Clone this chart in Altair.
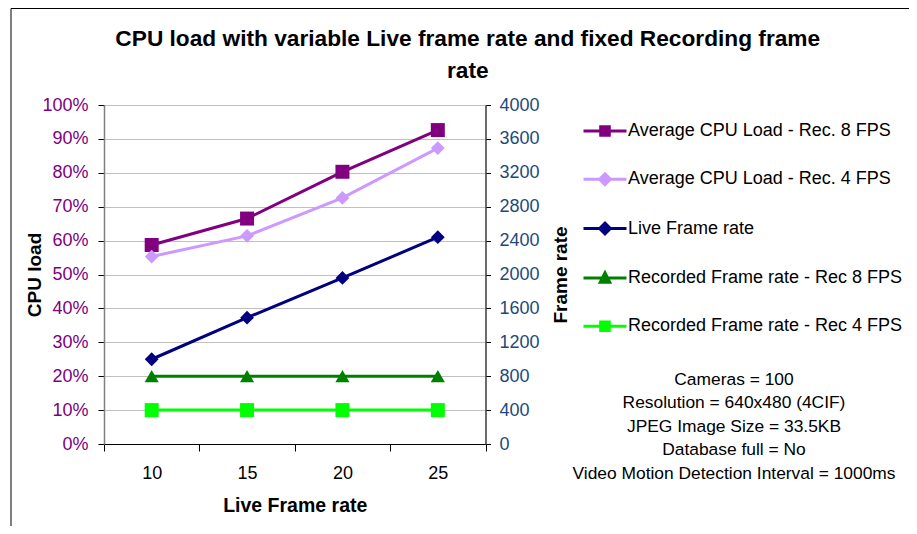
import altair as alt
import pandas as pd

# ---- data ----
live_fps = [10, 15, 20, 25]
cpu_rec8 = [0.587, 0.665, 0.803, 0.926]
cpu_rec4 = [0.553, 0.614, 0.726, 0.873]
live_rate = [1000, 1490, 1960, 2440]
rec_rate8 = [800, 800, 800, 800]
rec_rate4 = [400, 400, 400, 400]

series_names = [
    "Average CPU Load - Rec. 8 FPS",
    "Average CPU Load - Rec. 4 FPS",
    "Live Frame rate",
    "Recorded Frame rate - Rec 8 FPS",
    "Recorded Frame rate - Rec 4 FPS",
]
series_colors = ["#800080", "#CC99FF", "#000080", "#008000", "#00FF00"]
legend_shapes = [
    "M-1,0H1M-0.2,-0.2H0.2V0.2H-0.2Z",
    "M-1,0H1M-0.25,0L0,-0.25L0.25,0L0,0.25Z",
    "M-1,0H1M-0.25,0L0,-0.25L0.25,0L0,0.25Z",
    "M-1,0H1M-0.22,0.2L0.22,0.2L0,-0.24Z",
    "M-1,0H1M-0.2,-0.2H0.2V0.2H-0.2Z",
]
notes = [
    "Cameras = 100",
    "Resolution = 640x480 (4CIF)",
    "JPEG Image Size = 33.5KB",
    "Database full = No",
    "Video Motion Detection Interval = 1000ms",
]
title_lines = ["CPU load with variable Live frame rate and fixed Recording frame", "rate"]
cpu_ticks = [i / 10 for i in range(11)]
rate_ticks = list(range(0, 4001, 400))

cpu_df = pd.DataFrame({
    "fps": live_fps * 2,
    "load": cpu_rec8 + cpu_rec4,
    "series": [series_names[0]] * 4 + [series_names[1]] * 4,
})
fr_df = pd.DataFrame({
    "fps": live_fps * 3,
    "rate": live_rate + rec_rate8 + rec_rate4,
    "series": [series_names[2]] * 4 + [series_names[3]] * 4 + [series_names[4]] * 4,
})
legend_df = pd.DataFrame({"series": series_names})
one_row = pd.DataFrame({"k": [1]})

FONT = "Liberation Sans"
W, H = 381.5, 339

# colour scale for the marks (listed in reverse so it is not merged with the legend's scales)
color_scale = alt.Scale(domain=series_names[::-1], range=series_colors[::-1])

X = alt.X(
    "fps:O",
    sort=live_fps,
    scale=alt.Scale(type="band", paddingInner=0, paddingOuter=0),
    axis=alt.Axis(
        title="Live Frame rate", tickBand="extent", tickSize=7, tickColor="black",
        domainColor="black", labelAngle=0, labelFont=FONT, labelFontSize=18,
        labelColor="black", labelPadding=13, titleFont=FONT, titleFontSize=19.5,
        titleFontWeight="bold", titleColor="black", titleY=61, titleX=W / 2,
        titleBaseline="middle", grid=False,
    ),
)

left_axis = alt.Axis(
    title="CPU load", values=cpu_ticks, format=".0%", tickSize=6, tickColor="black",
    domainColor="#808080", domainWidth=1.5, labelFont=FONT, labelFontSize=18,
    labelColor="#800080", labelPadding=10, grid=True, gridColor="#C0C0C0",
    titleFont=FONT, titleFontSize=19, titleFontWeight="bold", titleColor="black",
    titleAngle=270, titleX=-70, titleY=H / 2, titleAlign="center", titleBaseline="middle",
)
right_axis = alt.Axis(
    title="Frame rate", orient="right", values=rate_ticks, format="d", tickSize=5,
    tickColor="black", domainColor="#404040", domainWidth=1.5, labelFont=FONT,
    labelFontSize=18, labelColor="#1D4A7A", labelPadding=8.5, grid=False,
    titleFont=FONT, titleFontSize=19, titleFontWeight="bold", titleColor="black",
    titleAngle=270, titleX=74.5, titleY=H / 2, titleAlign="center", titleBaseline="middle",
)

Y_cpu = alt.Y("load:Q", scale=alt.Scale(domain=[0, 1], nice=False), axis=left_axis)
Y_fr = alt.Y("rate:Q", scale=alt.Scale(domain=[0, 4000], nice=False), axis=right_axis)
C = alt.Color("series:N", scale=color_scale, legend=None)

cpu_base = alt.Chart(cpu_df).encode(x=X, y=Y_cpu, color=C)
cpu_line = cpu_base.mark_line(strokeWidth=3)
cpu_sq = cpu_base.transform_filter(alt.datum.series == series_names[0]).mark_point(
    shape="square", filled=True, size=196, opacity=1)
cpu_dia = cpu_base.transform_filter(alt.datum.series == series_names[1]).mark_point(
    shape="diamond", filled=True, size=190, opacity=1)

leg = alt.Legend(
    title=None, orient="none", legendX=478, legendY=3, padding=0,
    labelFont=FONT, labelFontSize=18, labelColor="black", labelLimit=400,
    labelOffset=0, symbolSize=1849, symbolStrokeWidth=3, symbolOpacity=1,
    rowPadding=14.3,
)
# invisible points: only there to carry the legend (line + marker symbols)
legend_layer = alt.Chart(legend_df).mark_point(
    filled=True, opacity=0, strokeWidth=3).encode(
    fill=alt.Fill("series:N", scale=alt.Scale(domain=series_names, range=series_colors), legend=leg),
    stroke=alt.Stroke("series:N", scale=alt.Scale(domain=series_names, range=series_colors), legend=leg),
    shape=alt.Shape("series:N", scale=alt.Scale(domain=series_names, range=legend_shapes), legend=leg),
)

fr_base = alt.Chart(fr_df).encode(x=X, y=Y_fr, color=C)
fr_line = fr_base.mark_line(strokeWidth=3)
fr_dia = fr_base.transform_filter(alt.datum.series == series_names[2]).mark_point(
    shape="diamond", filled=True, size=190, opacity=1)
fr_tri = fr_base.transform_filter(alt.datum.series == series_names[3]).mark_point(
    shape="triangle-up", filled=True, size=200, opacity=1)
fr_sq = fr_base.transform_filter(alt.datum.series == series_names[4]).mark_point(
    shape="square", filled=True, size=196, opacity=1)

notes_layer = alt.Chart(one_row).mark_text(
    text=notes, align="center", baseline="top", lineHeight=23.5, font=FONT,
    fontSize=17.4, color="black",
).encode(x=alt.value(630), y=alt.value(265.5))

frame_top = alt.Chart(one_row).mark_rule(color="black", strokeWidth=1).encode(
    x=alt.value(-93), x2=alt.value(805), y=alt.value(-96.5))
frame_left = alt.Chart(one_row).mark_rule(color="black", strokeWidth=1).encode(
    x=alt.value(-93), y=alt.value(-96.5), y2=alt.value(421))

left = alt.layer(cpu_line, cpu_sq, cpu_dia, legend_layer)
right = alt.layer(fr_line, fr_dia, fr_tri, fr_sq)

chart = alt.layer(left, right, notes_layer, frame_top, frame_left).resolve_scale(
    y="independent"
).properties(
    width=W, height=H,
    title=alt.TitleParams(
        text=title_lines, font=FONT, fontSize=22.7, fontWeight="bold", color="black",
        anchor="middle", frame="group", baseline="top", dx=173, dy=74.5, offset=0,
        lineHeight=31.5,
    ),
    autosize=alt.AutoSizeParams(type="none"),
    padding={"left": 96, "top": 97, "right": 423.5, "bottom": 82},
).configure_view(
    fill="#FFFFCC", stroke="#808080", strokeWidth=1.5
).configure(background="white")

chart.save("out.html", embed_options={"renderer": "svg", "actions": False})
